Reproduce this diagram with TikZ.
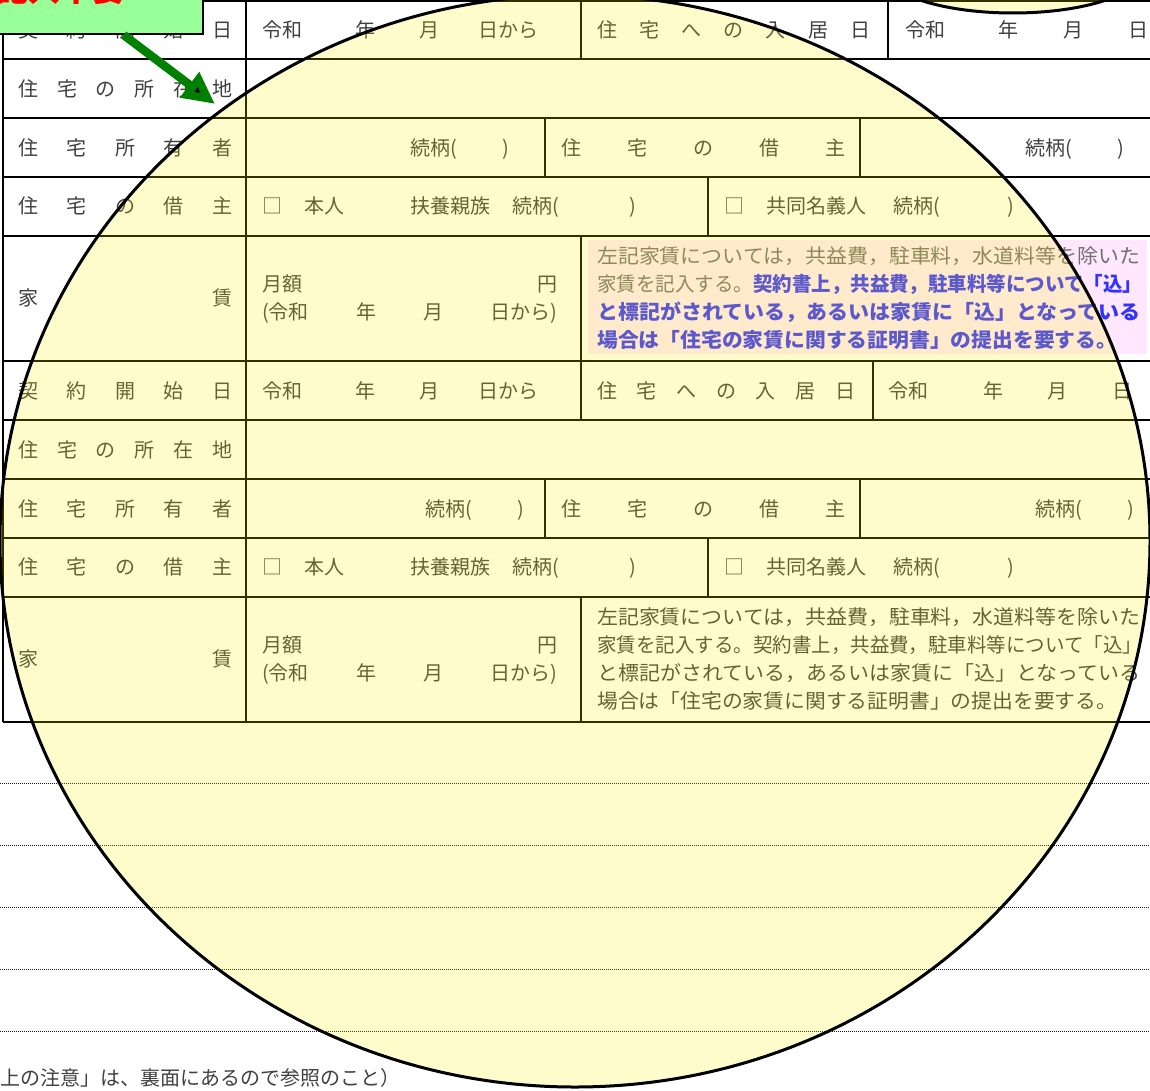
\documentclass[tikz,border=0pt]{standalone}
\usepackage{fontspec}
\usepackage{graphicx}
\usepackage{tikz}
\usetikzlibrary{arrows.meta}
\usetikzlibrary{positioning}

\newfontfamily\jp{Noto Sans CJK JP}
\definecolor{ink}{RGB}{64,64,64}
\definecolor{notegray}{RGB}{112,112,112}
\definecolor{noteblue}{RGB}{51,51,255}
\definecolor{notepink}{RGB}{255,232,255}
\definecolor{boxgreen}{RGB}{153,255,153}
\definecolor{arrowgreen}{RGB}{0,128,0}

\newcommand{\spread}[2]{\makebox[#1][s]{#2}}
\newcommand{\fitline}[2]{\resizebox{#1}{\height}{#2}}

\begin{document}
\begin{tikzpicture}[x=1pt, y=-1pt,
        txt/.style={font=\jp\fontsize{20}{20}\selectfont, text=ink, inner sep=0pt,
                    text height=17.6pt, text depth=2.4pt, anchor=west},
        tblline/.style={draw=black, line width=2pt},
        ruled/.style={draw=black!90, line width=1pt, dash pattern=on 1pt off 1pt},
        lens/.style={draw=black, line width=3pt, fill=yellow, fill opacity=0.2},
        tagbox/.style={draw=black, line width=1.5pt, fill=boxgreen, text=red,
                       font=\jp\bfseries\fontsize{32}{32}\selectfont, inner sep=0pt,
                       text height=30pt, text depth=0pt},
        tagarrow/.style={draw=arrowgreen, line width=8.5pt, -{Triangle[length=32pt, width=30pt]}}]
        \useasboundingbox (0,0) rectangle (1150,1091);
        \clip (0,0) rectangle (1150,1091);

        % note background (first entry)
        \fill[notepink] (588,240) rectangle (1147,354);

        % table
        \draw[tblline] (3,1) -- (1160,1) (3,59) -- (1160,59) (3,118) -- (1160,118)
            (3,177) -- (1160,177) (3,236) -- (1160,236) (3,361) -- (1160,361)
            (3,420) -- (1160,420) (3,479) -- (1160,479) (3,538) -- (1160,538)
            (3,597) -- (1160,597) (3,722) -- (1160,722);
        \draw[tblline] (3,0) -- (3,722) (246,0) -- (246,722);
        \draw[tblline] (581,1) -- (581,59) (888,1) -- (888,59) (545,118) -- (545,177)
            (860,118) -- (860,177) (708,177) -- (708,236) (581,236) -- (581,361);
        \draw[tblline] (581,361) -- (581,420) (873,361) -- (873,420) (545,479) -- (545,538)
            (860,479) -- (860,538) (708,538) -- (708,597) (581,597) -- (581,722);

        % first entry
        \node[txt] (kaishi-a) at (18,30) {\spread{214pt}{契 約 開 始 日}};
        \node[txt] (wa-a) at (262,30) {令和};
        \node[txt, right=53pt of wa-a] (nen-a) {年};
        \node[txt, right=43pt of nen-a] (tsuki-a) {月};
        \node[txt, right=39pt of tsuki-a] (hi-a) {日から};
        \node[txt] (nyukyo-a) at (597,30) {\spread{273pt}{住 宅 へ の 入 居 日}};
        \node[txt] (wa2-a) at (905,30) {令和};
        \node[txt, right=53pt of wa2-a] (nen2-a) {年};
        \node[txt, right=44pt of nen2-a] (tsuki2-a) {月};
        \node[txt, right=45pt of tsuki2-a] (hi2-a) {日};

        \node[txt] (shozai-a) at (18,89) {\spread{214pt}{住 宅 の 所 在 地}};

        \node[txt] (shoyu-a) at (18,147.5) {\spread{214pt}{住 宅 所 有 者}};
        \node[txt] (zoku-a) at (410,147.5) {続柄(\hspace{46pt})};
        \node[txt] (kari-a) at (561,147.5) {\spread{284pt}{住 宅 の 借 主}};
        \node[txt] (zoku2-a) at (1025,147.5) {続柄(\hspace{46pt})};

        \node[txt] (karinushi-a) at (18,206) {\spread{214pt}{住 宅 の 借 主}};
        \node[txt] (honnin-a) at (262,206) {□\hspace{22pt}本人};
        \node[txt, right=66pt of honnin-a] (fuyo-a) {扶養親族\hspace{22pt}続柄(\hspace{70pt})};
        \node[txt] (kyodo-a) at (724,206) {□\hspace{22pt}共同名義人\hspace{27pt}続柄(\hspace{68pt})};

        \node[txt] (yachin-a) at (18,298) {\spread{214pt}{家 賃}};
        \node[txt] (gaku-a) at (262,284) {\spread{295pt}{月額 円}};
        \node[txt] (kikan-a) at (262,312) {\spread{295pt}{(令和 年 月 日から)}};
        \node[txt, text=notegray] (note1-a) at (597,256)
            {\fitline{543pt}{左記家賃については，共益費，駐車料，水道料等を除いた}};
        \node[txt] (note2-a) at (597,284)
            {\fitline{545pt}{\textcolor{notegray}{家賃を記入する。}\textcolor{noteblue}{\bfseries 契約書上，共益費，駐車料等について「込」}}};
        \node[txt, text=noteblue] (note3-a) at (597,312)
            {\fitline{543pt}{\bfseries と標記がされている，あるいは家賃に「込」となっている}};
        \node[txt, text=noteblue] (note4-a) at (597,340)
            {\fitline{520pt}{\bfseries 場合は「住宅の家賃に関する証明書」の提出を要する。}};

        % second entry
        \node[txt] (kaishi-b) at (18,391) {\spread{214pt}{契 約 開 始 日}};
        \node[txt] (wa-b) at (262,391) {令和};
        \node[txt, right=53pt of wa-b] (nen-b) {年};
        \node[txt, right=43pt of nen-b] (tsuki-b) {月};
        \node[txt, right=39pt of tsuki-b] (hi-b) {日から};
        \node[txt] (nyukyo-b) at (597,391) {\spread{258pt}{住 宅 へ の 入 居 日}};
        \node[txt] (wa2-b) at (888,391) {令和};
        \node[txt, right=55pt of wa2-b] (nen2-b) {年};
        \node[txt, right=43pt of nen2-b] (tsuki2-b) {月};
        \node[txt, right=45pt of tsuki2-b] (hi2-b) {日};

        \node[txt] (shozai-b) at (18,450) {\spread{214pt}{住 宅 の 所 在 地}};

        \node[txt] (shoyu-b) at (18,508.5) {\spread{214pt}{住 宅 所 有 者}};
        \node[txt] (zoku-b) at (425,508.5) {続柄(\hspace{46pt})};
        \node[txt] (kari-b) at (561,508.5) {\spread{284pt}{住 宅 の 借 主}};
        \node[txt] (zoku2-b) at (1035,508.5) {続柄(\hspace{46pt})};

        \node[txt] (karinushi-b) at (18,567) {\spread{214pt}{住 宅 の 借 主}};
        \node[txt] (honnin-b) at (262,567) {□\hspace{22pt}本人};
        \node[txt, right=66pt of honnin-b] (fuyo-b) {扶養親族\hspace{22pt}続柄(\hspace{70pt})};
        \node[txt] (kyodo-b) at (724,567) {□\hspace{22pt}共同名義人\hspace{27pt}続柄(\hspace{68pt})};

        \node[txt] (yachin-b) at (18,659) {\spread{214pt}{家 賃}};
        \node[txt] (gaku-b) at (262,645) {\spread{295pt}{月額 円}};
        \node[txt] (kikan-b) at (262,673) {\spread{295pt}{(令和 年 月 日から)}};
        \node[txt] (note1-b) at (597,617)
            {\fitline{543pt}{左記家賃については，共益費，駐車料，水道料等を除いた}};
        \node[txt] (note2-b) at (597,645)
            {\fitline{545pt}{家賃を記入する。契約書上，共益費，駐車料等について「込」}};
        \node[txt] (note3-b) at (597,673)
            {\fitline{543pt}{と標記がされている，あるいは家賃に「込」となっている}};
        \node[txt] (note4-b) at (597,701)
            {\fitline{520pt}{場合は「住宅の家賃に関する証明書」の提出を要する。}};

        % writing lines
        \draw[ruled] (0,783) -- (1150,783);
        \draw[ruled] (0,845) -- (1150,845);
        \draw[ruled] (0,907) -- (1150,907);
        \draw[ruled] (0,969) -- (1150,969);
        \draw[ruled] (0,1031) -- (1150,1031);
        \node[txt] (chui) at (0,1078) {上の注意」は、裏面にあるので参照のこと）};

        % highlight
        \draw[lens] (575,541) ellipse [x radius=575, y radius=546];
        \draw[lens] (1013,-30) ellipse [x radius=130, y radius=43];

        \node[tagbox, anchor=south, minimum width=286pt, minimum height=95pt] (fuyo-tag) at (60,35) {記入不要};
        \coordinate (tip) at (215,104);
        \path[tagarrow] (fuyo-tag) edge (tip);
\end{tikzpicture}
\end{document}
